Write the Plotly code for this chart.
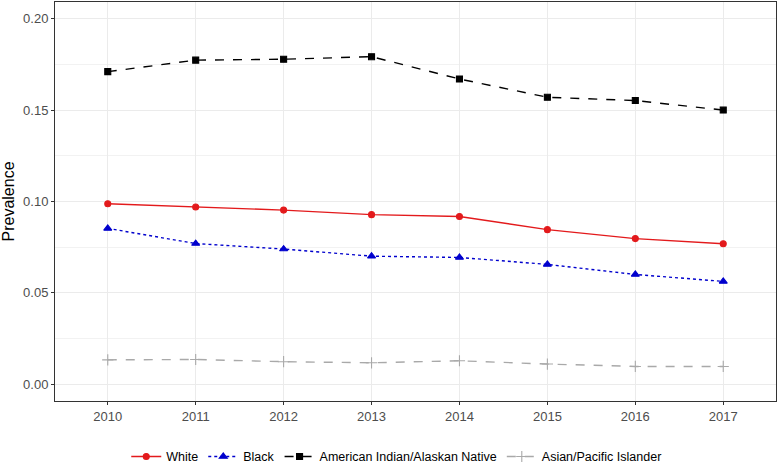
import plotly.graph_objects as go

years = [2010, 2011, 2012, 2013, 2014, 2015, 2016, 2017]
white = [0.0988, 0.0970, 0.0953, 0.0928, 0.0918, 0.0846, 0.0797, 0.0769]
black = [0.0853, 0.0770, 0.0740, 0.0701, 0.0694, 0.0656, 0.0601, 0.0563]
aian = [0.1710, 0.1773, 0.1778, 0.1792, 0.1670, 0.1570, 0.1552, 0.1500]
asian = [0.0134, 0.0136, 0.0124, 0.0118, 0.0129, 0.0111, 0.0098, 0.0098]

series = [
    ("White", white, "#E31A1C", "solid", "circle", 6),
    ("Black", black, "#0000CD", "dot", "triangle-up", 7),
    ("American Indian/Alaskan Native", aian, "#000000", "dash", "square", 6),
    ("Asian/Pacific Islander", asian, "#A9A9A9", "dash", "cross-thin", 8),
]

fig = go.Figure()
for name, vals, color, dash, sym, size in series:
    fig.add_trace(go.Scatter(
        x=years, y=vals, name=name, mode="lines+markers",
        line=dict(color=color, dash=dash, width=1.4),
        marker=dict(symbol=sym, size=size, color=color,
                    line=dict(color=color, width=1.1)),
    ))

fig.update_layout(
    width=778, height=474,
    margin=dict(l=55, r=2, t=2, b=66),
    paper_bgcolor="white", plot_bgcolor="white",
    font=dict(family="Liberation Sans, Arial, sans-serif", color="#4D4D4D", size=13),
    showlegend=True,
    legend=dict(orientation="h", x=0.474, xanchor="center", y=-0.14, yanchor="middle",
                font=dict(size=12.5, color="#000000"), itemwidth=30),
)
fig.update_xaxes(
    range=[2009.4, 2017.6], tickmode="array", tickvals=years,
    ticktext=[str(y) for y in years], automargin=False,
    showgrid=True, gridcolor="#EBEBEB", gridwidth=1,
    ticks="outside", ticklen=3, tickcolor="#333333",
    showline=True, linecolor="#333333", linewidth=1, mirror=True,
    zeroline=False, tickfont=dict(size=13, color="#4D4D4D"),
)
fig.update_yaxes(
    range=[-0.0091, 0.2091], tickmode="array",
    tickvals=[0.0, 0.05, 0.10, 0.15, 0.20],
    ticktext=["0.00", "0.05", "0.10", "0.15", "0.20"], automargin=False,
    showgrid=True, gridcolor="#EBEBEB", gridwidth=1,
    minor=dict(tickvals=[0.025, 0.075, 0.125, 0.175], showgrid=True,
               gridcolor="#F2F2F2", gridwidth=0.6),
    ticks="outside", ticklen=3, tickcolor="#333333",
    showline=True, linecolor="#333333", linewidth=1, mirror=True,
    zeroline=False, tickfont=dict(size=13, color="#4D4D4D"),
    title=dict(text="Prevalence", font=dict(size=16, color="#000000"), standoff=5),
)

fig.write_html(
    "out.html",
    config={"displayModeBar": False, "responsive": False},
    post_script="document.documentElement.style.margin='0';document.body.style.margin='0';document.body.style.overflow='hidden';",
)
